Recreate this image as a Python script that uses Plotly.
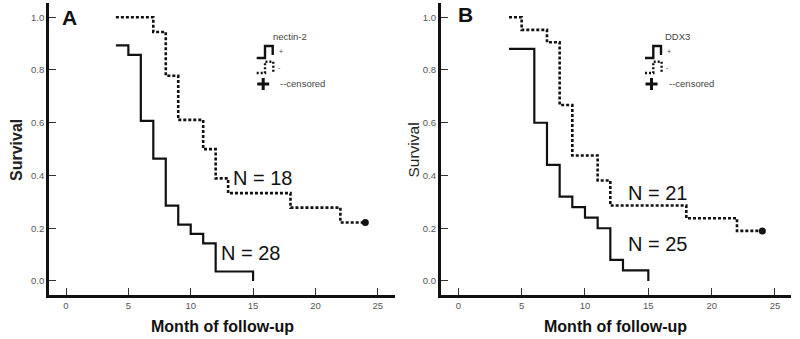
import plotly.graph_objects as go

W, H = 800, 339
FONT = "Liberation Sans, Arial, sans-serif"

# ---------------- data ----------------
# Panel A: nectin-2
a_pos_months = [4, 5, 6, 7, 8, 9, 10, 11, 12, 15]
a_pos_surv = [0.893, 0.857, 0.607, 0.464, 0.286, 0.214, 0.179, 0.143, 0.036, 0.0]
a_neg_months = [4, 7, 8, 9, 11, 12, 13, 18, 22, 24]
a_neg_surv = [1.0, 0.944, 0.778, 0.611, 0.5, 0.389, 0.333, 0.278, 0.222, 0.222]
a_censor_month = [24]
a_censor_surv = [0.222]

# Panel B: DDX3
b_pos_months = [4, 6, 7, 8, 9, 10, 11, 12, 13, 15]
b_pos_surv = [0.88, 0.60, 0.44, 0.32, 0.28, 0.24, 0.20, 0.08, 0.04, 0.0]
b_neg_months = [4, 5, 7, 8, 9, 11, 12, 18, 22, 24]
b_neg_surv = [1.0, 0.952, 0.905, 0.667, 0.476, 0.381, 0.286, 0.238, 0.190, 0.190]
b_censor_month = [24]
b_censor_surv = [0.190]

x_ticks = [0, 5, 10, 15, 20, 25]
y_ticks = [0.0, 0.2, 0.4, 0.6, 0.8, 1.0]

panel_labels = ["A", "B"]
marker_names = ["nectin-2", "DDX3"]
n_labels_a = ["N = 18", "N = 28"]
n_labels_b = ["N = 21", "N = 25"]

# ---------------- helpers ----------------
def px(x):
    return x / W

def py(y):
    return 1 - y / H

INK = "#111111"
fig = go.Figure()

def add_panel(xa, ya, pos_m, pos_s, neg_m, neg_s, cm, cs):
    fig.add_trace(go.Scatter(x=pos_m, y=pos_s, mode="lines", line_shape="hv",
                             line=dict(color=INK, width=2.2), xaxis=xa, yaxis=ya,
                             showlegend=False, hoverinfo="skip"))
    fig.add_trace(go.Scatter(x=neg_m, y=neg_s, mode="lines", line_shape="hv",
                             line=dict(color=INK, width=2.6, dash="3px,2px"), xaxis=xa, yaxis=ya,
                             showlegend=False, hoverinfo="skip"))
    fig.add_trace(go.Scatter(x=cm, y=cs, mode="markers",
                             marker=dict(symbol="circle", size=7, color=INK), xaxis=xa, yaxis=ya,
                             showlegend=False, hoverinfo="skip"))

add_panel("x", "y", a_pos_months, a_pos_surv, a_neg_months, a_neg_surv, a_censor_month, a_censor_surv)
add_panel("x2", "y2", b_pos_months, b_pos_surv, b_neg_months, b_neg_surv, b_censor_month, b_censor_surv)

ydom = [py(295), py(3)]
axis_common = dict(showgrid=False, zeroline=False, showline=True, linecolor=INK, linewidth=2.6,
                   ticks="inside", ticklen=7, tickwidth=1.2, tickcolor="#333",
                   tickfont=dict(family=FONT, size=9.5, color="#555"), mirror=False)

fig.update_layout(
    width=W, height=H,
    margin=dict(l=0, r=0, t=0, b=0),
    paper_bgcolor="white", plot_bgcolor="white",
    xaxis=dict(domain=[px(49), px(395)], range=[-1.363, 26.38], tickvals=x_ticks,
               anchor="y", **axis_common),
    yaxis=dict(domain=ydom, range=[-0.0531, 1.054], tickvals=y_ticks, tickformat=".1f",
               anchor="x", **axis_common),
    xaxis2=dict(domain=[px(440.7), px(790.7)], range=[-1.39, 26.24], tickvals=x_ticks,
                anchor="y2", **axis_common),
    yaxis2=dict(domain=ydom, range=[-0.0531, 1.054], tickvals=y_ticks, tickformat=".1f",
                anchor="x2", **axis_common),
)

ann = []
shapes = []

# Axis titles and panel labels
for cx, ytx, ybold in [(222, 16, True), (615.7, 412.5, False)]:
    ann.append(dict(x=px(cx), y=py(326.7), xref="paper", yref="paper", text="<b>Month of follow-up</b>",
                    showarrow=False, font=dict(family=FONT, size=16, color=INK),
                    xanchor="center", yanchor="middle"))
    ann.append(dict(x=px(ytx), y=py(150), xref="paper", yref="paper",
                    text="<b>Survival</b>" if ybold else "Survival", textangle=-90,
                    showarrow=False, font=dict(family=FONT, size=16 if ybold else 15.5, color="#222"),
                    xanchor="center", yanchor="middle"))

ann.append(dict(x=px(69.5), y=py(18), xref="paper", yref="paper", text="<b>" + panel_labels[0] + "</b>",
                showarrow=False, font=dict(family=FONT, size=21, color=INK), xanchor="center", yanchor="middle"))
ann.append(dict(x=px(465), y=py(14.5), xref="paper", yref="paper", text="<b>" + panel_labels[1] + "</b>",
                showarrow=False, font=dict(family=FONT, size=21, color=INK), xanchor="center", yanchor="middle"))

# N labels (data coordinates)
for (xv, yv, t, xr, yr) in [(13.3, 0.39, n_labels_a[0], "x", "y"), (12.35, 0.106, n_labels_a[1], "x", "y"),
                            (13.3, 0.334, n_labels_b[0], "x2", "y2"), (13.3, 0.14, n_labels_b[1], "x2", "y2")]:
    ann.append(dict(x=xv, y=yv, xref=xr, yref=yr, text=t, showarrow=False,
                    font=dict(family=FONT, size=20, color=INK), xanchor="left", yanchor="middle",
                    borderpad=0))

# Custom legend glyphs
for x0, title, tcx in [(256.7, marker_names[0], 290.3), (645.0, marker_names[1], 677.8)]:
    ann.append(dict(x=px(tcx), y=py(36.7), xref="paper", yref="paper", text=title, showarrow=False,
                    font=dict(family=FONT, size=9.5, color="#444"), xanchor="center", yanchor="middle"))
    # solid step
    shapes.append(dict(type="path", xref="paper", yref="paper",
                       path=f"M {px(x0)},{py(58)} L {px(x0+8.3)},{py(58)} L {px(x0+8.3)},{py(46)} "
                            f"L {px(x0+16)},{py(46)} L {px(x0+16)},{py(55)}",
                       line=dict(color=INK, width=2.4)))
    # dotted step
    shapes.append(dict(type="path", xref="paper", yref="paper",
                       path=f"M {px(x0)},{py(73)} L {px(x0+8.3)},{py(73)} L {px(x0+8.3)},{py(61.7)} "
                            f"L {px(x0+16.6)},{py(61.7)} L {px(x0+16.6)},{py(72)}",
                       line=dict(color=INK, width=2.4, dash="2px,2px")))
    ann.append(dict(x=px(x0+24), y=py(51.7), xref="paper", yref="paper", text="+", showarrow=False,
                    font=dict(family=FONT, size=7, color="#444"), xanchor="center", yanchor="middle"))
    ann.append(dict(x=px(x0+22.6), y=py(68), xref="paper", yref="paper", text="-", showarrow=False,
                    font=dict(family=FONT, size=7, color="#444"), xanchor="center", yanchor="middle"))
    # big censor plus
    cx, cy = x0 + 6.5, 84
    shapes.append(dict(type="line", xref="paper", yref="paper", x0=px(cx-6), x1=px(cx+6), y0=py(cy), y1=py(cy),
                       line=dict(color=INK, width=3)))
    shapes.append(dict(type="line", xref="paper", yref="paper", x0=px(cx), x1=px(cx), y0=py(cy-6), y1=py(cy+6),
                       line=dict(color=INK, width=3)))
    ann.append(dict(x=px(x0+22.6), y=py(83), xref="paper", yref="paper", text="--censored", showarrow=False,
                    font=dict(family=FONT, size=9.5, color="#444"), xanchor="left", yanchor="middle",
                    borderpad=0))

fig.update_layout(annotations=ann, shapes=shapes)
fig.write_html("out.html", config={"displayModeBar": False},
               post_script="document.body.style.margin='0';document.body.style.padding='0';"
                           "document.body.style.overflow='hidden';")
